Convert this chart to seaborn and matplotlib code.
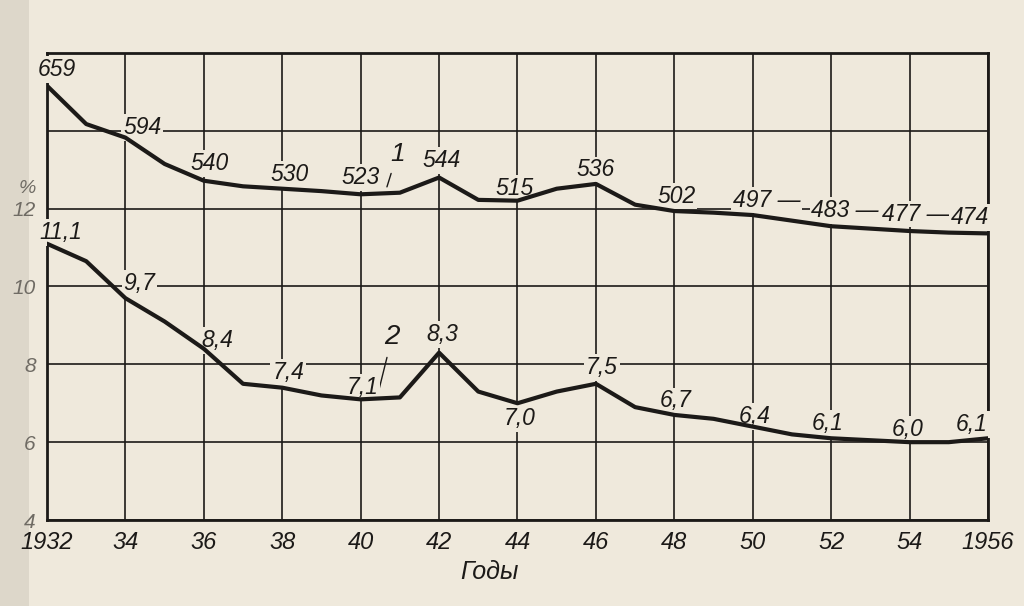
import matplotlib
matplotlib.use("Agg")
import matplotlib.pyplot as plt
import seaborn as sns
import pandas as pd
from matplotlib.patches import Rectangle

# ---- data ----
years = list(range(1932, 1957))
# line 1: specific fuel consumption, g/kWh (labelled values at even years)
coal = [659, 611, 594, 561, 540, 533, 530, 527, 523, 525, 544, 516, 515,
        530, 536, 510, 502, 500, 497, 490, 483, 480, 477, 475, 474]
# line 2: percent
pct = [11.1, 10.65, 9.7, 9.1, 8.4, 7.5, 7.4, 7.2, 7.1, 7.15, 8.3, 7.3, 7.0,
       7.3, 7.5, 6.9, 6.7, 6.6, 6.4, 6.2, 6.1, 6.05, 6.0, 6.0, 6.1]

label_years = [1932, 1934, 1936, 1938, 1940, 1942, 1944, 1946, 1948, 1950, 1952, 1954, 1956]
coal_labels = ["659", "594", "540", "530", "523", "544", "515", "536", "502",
               "497 —", "483 —", "477 —", "474"]
pct_labels = ["11,1", "9,7", "8,4", "7,4", "7,1", "8,3", "7,0", "7,5", "6,7",
              "6,4", "6,1", "6,0", "6,1"]
xtick_vals = list(range(1932, 1957, 2))
xtick_labels = ["1932", "34", "36", "38", "40", "42", "44", "46", "48", "50", "52", "54", "1956"]
ytick_labels = ["4", "6", "8", "10", "12"]

df = pd.DataFrame({"year": years, "coal": coal, "pct": pct})

# ---- style ----
paper = "#efe9dc"
ink = "#1c1a18"
sns.set_theme(style="white")
plt.rcParams["font.family"] = ["Liberation Sans Narrow", "Liberation Sans", "DejaVu Sans"]
plt.rcParams["font.style"] = "italic"

fig = plt.figure(figsize=(10.24, 6.06), dpi=100, facecolor=paper)
fig.patches.append(Rectangle((0, 0), 0.028, 1, transform=fig.transFigure,
                             facecolor="#ddd7ca", edgecolor="none", zorder=-10))
L, R, T, B = 47, 988, 53, 520
ax = fig.add_axes([L / 1024, 1 - B / 606, (R - L) / 1024, (B - T) / 606])
ax.set_zorder(2)
ax.set_facecolor(paper)

ax.set_xlim(1932, 1956)
ax.set_ylim(4, 16)
ax.set_xticks(xtick_vals)
ax.set_xticklabels(xtick_labels, fontsize=17, style="italic", color=ink)
ax.set_yticks([4, 6, 8, 10, 12, 14, 16])
ax.set_yticklabels(ytick_labels + ["", ""], fontsize=15, style="italic", color="#6f6b64")
ax.tick_params(axis="both", length=0, pad=8)
ax.grid(True, color=ink, lw=1.2, zorder=1)
for s in ax.spines.values():
    s.set_color(ink)
    s.set_linewidth(2)
ax.set_axisbelow(True)

ax2 = ax.twinx()
ax2.set_ylim(115, 700)
ax2.set_yticks([])
for s in ax2.spines.values():
    s.set_visible(False)

sns.lineplot(data=df, x="year", y="pct", ax=ax, color=ink, lw=3.0, zorder=5)
sns.lineplot(data=df, x="year", y="coal", ax=ax2, color=ink, lw=3.0, zorder=5)
ax.set_ylabel("")
ax2.set_ylabel("")

# ---- value labels ----
coal_off = [(10, 16), (17, 10), (6, 17), (7, 14), (0, 17), (3, 17), (-3, 12), (0, 14),
            (2, 15), (14, 15), (14, 16), (6, 17), (-18, 16)]
pct_off = [(14, 11), (14, 15), (13, 8), (6, 15), (2, 12), (3, 18), (2, -15), (6, 16),
           (1, 14), (2, 10), (-4, 15), (-2, 13), (-16, 14)]
bb = dict(boxstyle="square,pad=0.08", facecolor=paper, edgecolor="none")
for yr, txt, off in zip(label_years, coal_labels, coal_off):
    v = coal[years.index(yr)]
    ax2.annotate(txt, xy=(yr, v), xytext=off, textcoords="offset pixels",
                 ha="center", va="center", fontsize=16.5, style="italic", color=ink,
                 bbox=bb, zorder=4, annotation_clip=False)
for yr, txt, off in zip(label_years, pct_labels, pct_off):
    v = pct[years.index(yr)]
    ax.annotate(txt, xy=(yr, v), xytext=off, textcoords="offset pixels",
                ha="center", va="center", fontsize=16.5, style="italic", color=ink,
                bbox=bb, zorder=4, annotation_clip=False)

# curve numbers with leader lines
ax.annotate("1", xy=(1940.67, 12.56), xytext=(1940.93, 13.4), ha="center", va="center",
            fontsize=19, style="italic", color=ink,
            arrowprops=dict(arrowstyle="-", lw=1, color=ink, shrinkA=3, shrinkB=0))
ax.annotate("2", xy=(1940.42, 7.16), xytext=(1940.8, 8.7), ha="center", va="center",
            fontsize=20, style="italic", color=ink,
            arrowprops=dict(arrowstyle="-", lw=1, color=ink, shrinkA=3, shrinkB=0))

ax.text(-0.021, 0.71, "%", transform=ax.transAxes, ha="center", va="center",
        fontsize=14, style="italic", color="#6f6b64")
ax.set_xlabel("Годы", fontsize=18, style="italic", color=ink, x=0.47, labelpad=4)

fig.savefig("out.png", dpi=100, facecolor=paper)
